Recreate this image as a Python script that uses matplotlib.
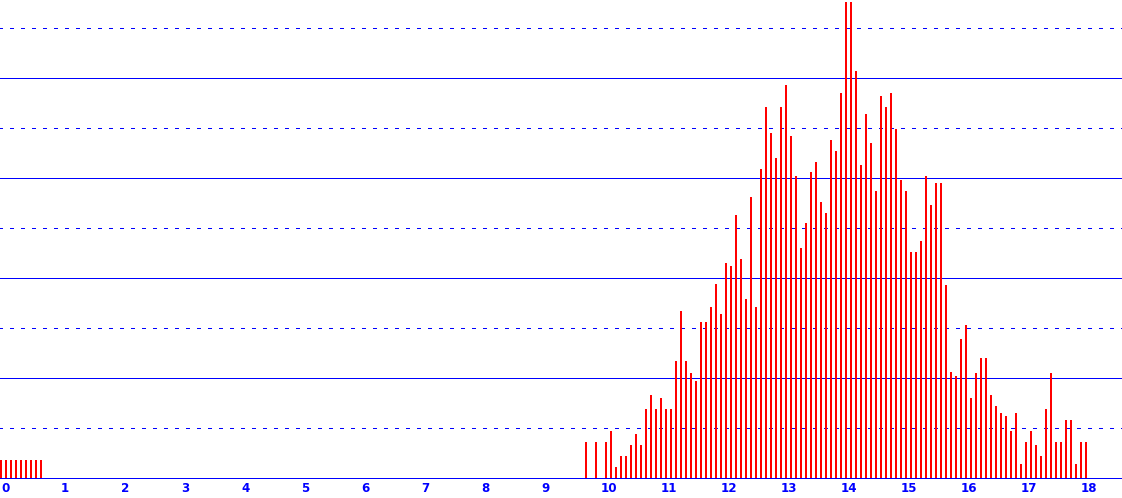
import numpy as np
import matplotlib
matplotlib.use("Agg")
import matplotlib.pyplot as plt

# ---- data ----
bin_step = 1 / 12          # width of one histogram bin on the x axis
left_start_bin = 0
left_values = [18, 18, 18, 18, 18, 18, 18, 18, 18]
right_start_bin = 117
right_values = [
    36, 0, 36, 0, 36, 47, 11, 22, 22, 33, 44, 33, 69, 83, 69, 80, 69, 69,
    117, 167, 117, 105, 97, 156, 156, 171, 194, 164, 215, 212, 263, 219, 179,
    281, 171, 309, 371, 345, 320, 371, 393, 342, 302, 230, 255, 306, 316, 276,
    265, 338, 327, 385, 476, 476, 407, 313, 364, 335, 287, 382, 371, 385, 349,
    298, 287, 226, 226, 237, 302, 273, 295, 295, 193, 106, 102, 139, 153, 80,
    105, 120, 120, 83, 72, 65, 62, 47, 65, 14, 36, 47, 33, 22, 69, 105, 36, 36,
    58, 58, 14, 36, 36,
]
x_ticks = list(range(0, 19))
x_tick_labels = [str(t) for t in x_ticks]
solid_grid = [100, 200, 300, 400]
dotted_grid = [50, 150, 250, 350, 450]

# ---- figure ----
W, H, DPI = 1122, 498, 100
fig = plt.figure(figsize=(W / DPI, H / DPI), dpi=DPI)
ax = fig.add_axes([0, 20 / H, 1, 478 / H])
px = 1 / 60.0  # one pixel in x data units
ax.set_xlim(-1 * px, (W - 1) * px)
ax.set_ylim(0, 478)
for s in ax.spines.values():
    s.set_visible(False)

blue = "#0000FF"
red = "#FF0000"
lw1 = 72.0 / DPI  # one pixel in points

for g in solid_grid:
    ax.axhline(g, color=blue, lw=lw1, zorder=1, antialiased=False)
for g in dotted_grid:
    ax.axhline(g, color=blue, lw=lw1, antialiased=False,
               linestyle=(1, (3.0, 7.0)), zorder=1)

xl = (left_start_bin + np.arange(len(left_values))) * bin_step
xr = (right_start_bin + np.arange(len(right_values))) * bin_step
for xs, vs in ((xl, left_values), (xr, right_values)):
    bars = ax.bar(xs, vs, width=2 * px, color=red, linewidth=0, zorder=2,
                  antialiased=True)
    for b in bars:
        b.set_snap(False)

ax.axhline(0, color=blue, lw=lw1, zorder=3, clip_on=False, antialiased=False)

ax.set_xticks(x_ticks)
ax.set_xticklabels(x_tick_labels, fontsize=8.6, fontweight="bold",
                   color=blue, family="DejaVu Sans")
for lab in ax.get_xticklabels():
    lab.set_horizontalalignment("left")
ax.tick_params(axis="x", length=0, pad=3)
ax.set_yticks([])

fig.savefig("out.png", dpi=DPI)
